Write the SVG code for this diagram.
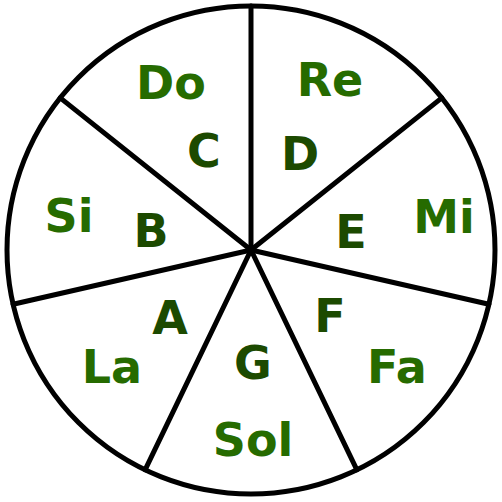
<svg xmlns="http://www.w3.org/2000/svg" width="502" height="502" viewBox="0 0 502 502">
<style>
.ring{fill:#fff;stroke:#000;stroke-width:5}
.spoke{stroke:#000;stroke-width:5;stroke-linecap:round}
text{font-family:"DejaVu Sans",sans-serif;font-weight:bold;font-size:46px;text-anchor:middle}
.out{fill:#266b00}
.in{fill:#1c4a00}
</style>
<circle class="ring" cx="251" cy="250" r="244"/>
<g id="connectors">
<line class="spoke" x1="251" y1="250" x2="251" y2="6"/>
<line class="spoke" x1="251" y1="250" x2="441.8" y2="97.9"/>
<line class="spoke" x1="251" y1="250" x2="488.9" y2="304.3"/>
<line class="spoke" x1="251" y1="250" x2="356.9" y2="469.8"/>
<line class="spoke" x1="251" y1="250" x2="145.1" y2="469.8"/>
<line class="spoke" x1="251" y1="250" x2="13.1" y2="304.3"/>
<line class="spoke" x1="251" y1="250" x2="60.2" y2="97.9"/>
</g>
<g id="do"><text class="out" x="171" y="99">Do</text><text class="in" x="204" y="167">C</text></g>
<g id="re"><text class="out" x="330" y="96">Re</text><text class="in" x="300" y="170">D</text></g>
<g id="mi"><text class="out" x="444" y="233">Mi</text><text class="in" x="351" y="248">E</text></g>
<g id="fa"><text class="out" x="397" y="383">Fa</text><text class="in" x="330" y="332">F</text></g>
<g id="sol"><text class="out" x="253" y="456">Sol</text><text class="in" x="253" y="379">G</text></g>
<g id="la"><text class="out" x="112" y="383">La</text><text class="in" x="170" y="334">A</text></g>
<g id="si"><text class="out" x="69" y="232">Si</text><text class="in" x="151" y="247">B</text></g>
</svg>
